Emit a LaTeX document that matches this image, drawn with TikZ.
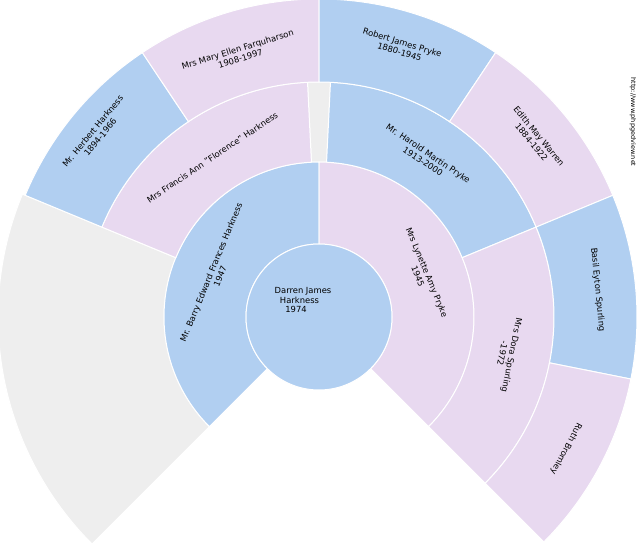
\documentclass[tikz,border=0pt]{standalone}
\usepackage{fontspec}
\setmainfont{DejaVu Sans}
\definecolor{mblue}{HTML}{B1CFF1}
\definecolor{fpink}{HTML}{E8D9F0}
\definecolor{egray}{HTML}{EEEEEE}
\newcommand\fansect[5]{\filldraw[#5,draw=white,line width=1pt] (#1:#3pt) arc[start angle=#1,end angle=#2,radius=#3pt] -- (#2:#4pt) arc[start angle=#2,end angle=#1,radius=#4pt] -- cycle;}
\begin{document}
\begin{tikzpicture}[x=1pt,y=1pt,lbl/.style={font=\fontsize{8.4}{9.6}\selectfont,align=center,inner sep=0pt}]
\useasboundingbox (0,0) rectangle (640,550);
\begin{scope}[shift={(319,233)}]
\fansect{225}{157.5}{155}{321}{fill=egray}
\fansect{92.8}{87.2}{155}{235}{fill=egray}
% ring 1
\fansect{225}{90}{73}{155}{fill=mblue}
\fansect{90}{-45}{73}{155}{fill=fpink}
% ring 2
\fansect{157.5}{92.8}{155}{235}{fill=fpink}
\fansect{87.2}{22.5}{155}{235}{fill=mblue}
\fansect{22.5}{-45}{155}{235}{fill=fpink}
% ring 3
\fansect{157.5}{123.75}{235}{318}{fill=mblue}
\fansect{123.75}{90}{235}{318}{fill=fpink}
\fansect{90}{56.25}{235}{318}{fill=mblue}
\fansect{56.25}{22.5}{235}{318}{fill=fpink}
\fansect{22.5}{-11.25}{235}{318}{fill=mblue}
\fansect{-11.25}{-45}{235}{318}{fill=fpink}
\filldraw[fill=mblue,draw=white,line width=1pt] (0,0) circle[radius=73pt];
\node[lbl,align=left] (p0) at (-16,17) {Darren James\\ \ \ Harkness\\ \ \ \ \ 1974};
\node[lbl,rotate=67.5] (p1) at (157.5:112) {Mr. Barry Edward Frances Harkness\\1947};
\node[lbl,rotate=-67.5] (p2) at (22.5:112) {Mrs Lynette Amy Pryke\\1945};
\node[lbl,rotate=33.75] (p3) at (123.75:192) {Mrs Francis Ann "Florence" Harkness};
\node[lbl,rotate=-33.75] (p4) at (56.25:192) {Mr. Harold Martin Pryke\\1913-2000};
\node[lbl,rotate=-101.25] (p5) at (-11.25:192) {Mrs Dora Spurling\\-1972};
\node[lbl,rotate=50.6] (p6) at (140.6:288) {Mr. Herbert Harkness\\1894-1966};
\node[lbl,rotate=16.9] (p7) at (106.9:275) {Mrs Mary Ellen Farquharson\\1908-1997};
\node[lbl,rotate=-16.9] (p8) at (73.1:282) {Robert James Pryke\\1880-1945};
\node[lbl,rotate=-50.6] (p9) at (39.4:280) {Edith May Warren\\1884-1922};
\node[lbl,rotate=-84.4] (p10) at (5.6:280) {Basil Eyton Spurling};
\node[lbl,rotate=-118.1] (p11) at (-28.1:280) {Ruth Bromley};
\end{scope}
\node[font=\fontsize{6.5}{7}\selectfont,rotate=-90,inner sep=0pt] (wm) at (633,428) {http://www.phpgedview.net};
\end{tikzpicture}
\end{document}
